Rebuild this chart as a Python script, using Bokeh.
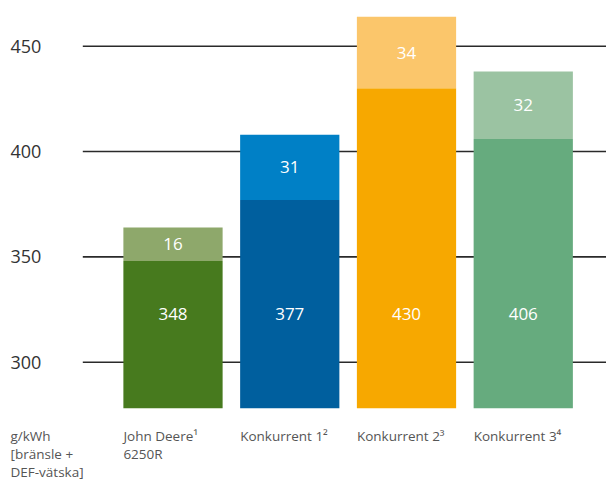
from bokeh.plotting import figure
from bokeh.models import Range1d, ColumnDataSource
from bokeh.core.properties import value
from bokeh.embed import file_html
from bokeh.resources import INLINE

# ---- data ----
categories = ["John Deere\u00b9\n6250R", "Konkurrent 1\u00b2", "Konkurrent 2\u00b3", "Konkurrent 3\u2074"]
fuel = [348, 377, 430, 406]          # bränsle
def_fluid = [16, 31, 34, 32]          # DEF-vätska
y_ticks = [300, 350, 400, 450]
unit_label = "g/kWh\n[bränsle +\nDEF-vätska]"

dark_colors = ["#477a1e", "#005f9e", "#f7a800", "#66ab7e"]
light_colors = ["#8ea86b", "#0080c6", "#fbc66b", "#9bc3a2"]

BASE = 278.2
FONT = "Open Sans"

x_start, x_end = -1.4775, 3.713
y_start, y_end = 243.85, 471.69

p = figure(width=606, height=480, output_backend="svg", toolbar_location=None,
           x_range=Range1d(x_start, x_end), y_range=Range1d(y_start, y_end),
           min_border=0, min_border_left=0, min_border_right=0,
           min_border_top=0, min_border_bottom=0)
p.axis.visible = False
p.grid.visible = False
p.outline_line_color = None
p.background_fill_color = "white"
p.border_fill_color = "white"

idx = list(range(len(categories)))
bar_w = 0.85

# gridlines
grid_x0 = -0.7726
p.segment(x0=[grid_x0] * len(y_ticks), x1=[x_end] * len(y_ticks), y0=y_ticks, y1=y_ticks,
          line_color="#2a2a2a", line_width=1.6)

# tick labels
p.text(x=[x_start] * len(y_ticks), y=y_ticks, text=[str(t) for t in y_ticks],
       x_offset=10, text_align="left", text_baseline="middle",
       text_font=value(FONT), text_font_size="18px", text_color="#333333")

tops = [f + d for f, d in zip(fuel, def_fluid)]
src = ColumnDataSource(dict(x=idx, fuel=fuel, top=tops, base=[BASE] * len(idx),
                            dark=dark_colors, light=light_colors,
                            fuel_lbl=[str(v) for v in fuel],
                            def_lbl=[str(v) for v in def_fluid],
                            def_mid=[f + d / 2 for f, d in zip(fuel, def_fluid)],
                            fuel_y=[323.1] * len(idx),
                            left=[i - bar_w / 2 for i in idx],
                            lbl_y=[BASE] * len(idx),
                            cat=categories))

p.vbar(x="x", width=bar_w, bottom="base", top="fuel", fill_color="dark", line_color=None, source=src)
p.vbar(x="x", width=bar_w, bottom="fuel", top="top", fill_color="light", line_color=None, source=src)

p.text(x="x", y="fuel_y", text="fuel_lbl", text_align="center", text_baseline="middle",
       text_font=value(FONT), text_font_size="17px", text_color="white", source=src)
p.text(x="x", y="def_mid", text="def_lbl", text_align="center", text_baseline="middle",
       text_font=value(FONT), text_font_size="17px", text_color="white", source=src)

# category labels
p.text(x="left", y="lbl_y", text="cat", y_offset=19, text_align="left", text_baseline="top",
       text_font=value(FONT), text_font_size="13.5px", text_color="#555555",
       text_line_height=1.0, source=src)

# unit label
p.text(x=[x_start], y=[BASE], text=[unit_label], x_offset=10, y_offset=19,
       text_align="left", text_baseline="top",
       text_font=value(FONT), text_font_size="13.5px", text_color="#555555",
       text_line_height=1.0)

open("out.html", "w").write(file_html(p, INLINE))
